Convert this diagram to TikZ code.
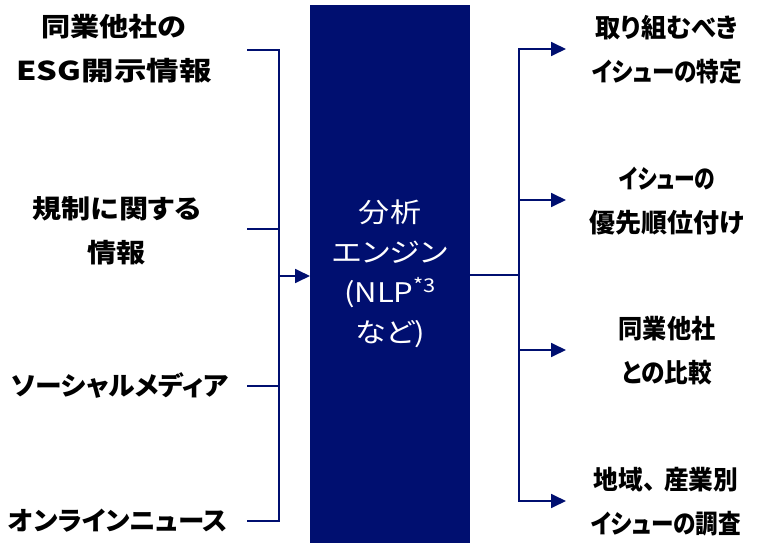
\documentclass[tikz,border=0pt]{standalone}
\usepackage{fontspec}
\usepackage{graphicx}
\usetikzlibrary{arrows.meta}
\newfontfamily\jp[RawFeature=+palt]{Noto Sans CJK JP}
\definecolor{navy}{RGB}{0,15,112}
\newcommand{\wl}[2][1.12]{\scalebox{#1}[1]{#2}}
\newcommand{\wc}[1]{\scalebox{1.15}[1]{#1}}
\tikzset{
  lab/.style={align=center, text=black, inner sep=0pt, font=\jp\bfseries\fontsize{26}{44}\selectfont},
  conn/.style={draw=navy, line width=1.1pt},
  connb/.style={draw=navy, line width=1.8pt},
  tip/.style={-{Triangle[length=15pt,width=14pt]}},
}
\begin{document}
\begin{tikzpicture}[x=1pt,y=1pt]
\useasboundingbox (0,0) rectangle (777,-543);
% engine box
\node[fill=navy, minimum width=160pt, minimum height=538pt, inner sep=0pt, outer sep=0pt,
      text=white, align=center, font=\jp\fontsize{27}{40}\selectfont] (engine) at (390,-274)
  {\wc{分析}\\ \wc{エンジン}\\ \wc{(NLP\raisebox{0.38em}{\fontsize{19}{19}\selectfont *3}}\\ \wc{など)}};
% left labels
\node[lab] (l1) at (114,-49) {\wl{同業他社の}\\ \wl[1.25]{ESG開示情報}};
\node[lab] (l2) at (117,-231) {\wl{規制に関する}\\ \wl{情報}};
\node[lab] (l3) at (120,-386) {\wl[1.03]{ソーシャルメディア}};
\node[lab] (l4) at (118,-521) {\wl[1.02]{オンラインニュース}};
% right labels
\node[lab] (r1) at (667,-50) {\wl[0.97]{取り組むべき}\\ \wl[0.87]{イシューの特定}};
\node[lab] (r2) at (667,-201) {\wl[0.8]{イシューの}\\ \wl[1.0]{優先順位付け}};
\node[lab] (r3) at (667,-351) {\wl[0.93]{同業他社}\\ \wl[0.91]{との比較}};
\node[lab] (r4) at (666,-502) {\wl[0.95]{地域\makebox[0.85em][l]{、}産業別}\\ \wl[0.87]{イシューの調査}};
% connector points
\coordinate (s1) at (247,-50);
\coordinate (s2) at (247,-229);
\coordinate (s3) at (247,-386);
\coordinate (s4) at (247,-521);
\coordinate (jl) at (279,-276);
\coordinate (jr) at (519,-275);
\coordinate (t1) at (566,-49);
\coordinate (t2) at (566,-200);
\coordinate (t3) at (566,-350);
\coordinate (t4) at (566,-501);
% left connectors
\draw[conn] (s1) -| (jl);
\draw[conn] (s2) -| (jl);
\draw[conn] (s3) -| (jl);
\draw[connb] (s4) -| (jl);
\draw[connb, tip] (jl) -- (jl -| engine.west);
% right connectors
\draw[connb] (engine.east |- jr) -- (jr);
\draw[connb, tip] (jr) |- (t1);
\draw[connb, tip] (jr) |- (t2);
\draw[connb, tip] (jr) |- (t3);
\draw[connb, tip] (jr) |- (t4);
\end{tikzpicture}
\end{document}
